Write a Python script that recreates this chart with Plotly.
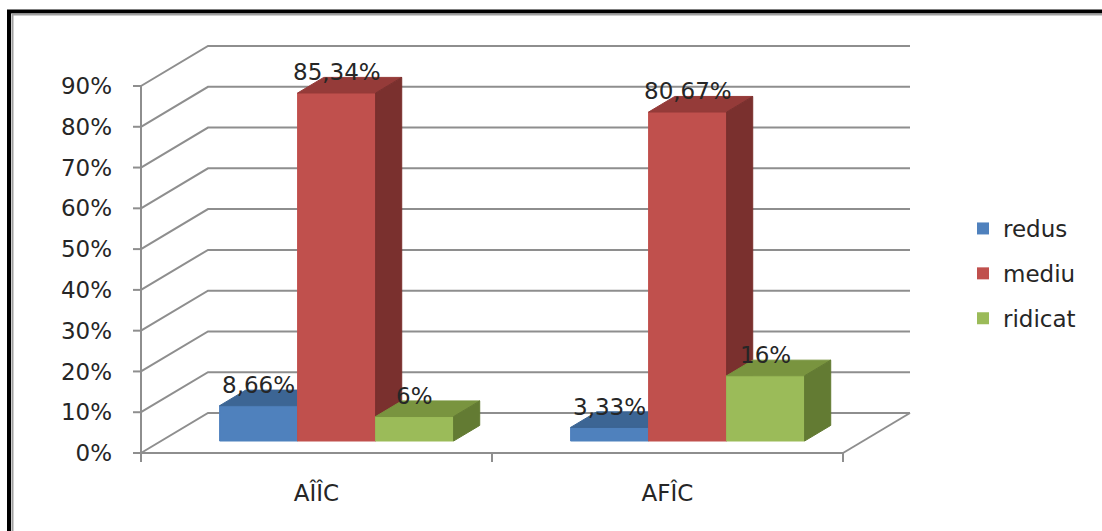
import plotly.graph_objects as go

# ---- data ----
categories = ["AÎÎC", "AFÎC"]
series_names = ["redus", "mediu", "ridicat"]
redus = [8.66, 3.33]
mediu = [85.34, 80.67]
ridicat = [6, 16]
redus_labels = ["8,66%", "3,33%"]
mediu_labels = ["85,34%", "80,67%"]
ridicat_labels = ["6%", "16%"]
y_ticks = [0, 10, 20, 30, 40, 50, 60, 70, 80, 90]
y_tick_text = ["0%", "10%", "20%", "30%", "40%", "50%", "60%", "70%", "80%", "90%"]

# ---- styling / geometry ----
FONT = "DejaVu Sans"
FS = 23
TXT = "#262626"
GRID = "#8e8e8e"
front_cols = ["#4f81bd", "#c0504d", "#9bbb59"]
top_cols = ["#3c6594", "#953b39", "#79943f"]
side_cols = ["#34577f", "#7a302e", "#637b33"]

PXU = 351.0          # pixels per category unit
PYU = 4.078          # pixels per percent
DX = 67.0 / PXU      # full depth offset in x units
DY = 40.0 / PYU      # full depth offset in y units
D0, D1 = 0.30, 0.69  # bar depth (front, back) fraction
BW = 78.0 / PXU      # bar width
PAD = 12
W, H = 1102, 531
ML, MR, MT, MB = 141 - PAD, W - (910 + PAD), 46 - PAD, H - (453 + PAD)
YMAX = y_ticks[-1]
NCAT = len(categories)

fig = go.Figure()

def seg(xs, ys, color=GRID, width=2):
    fig.add_trace(go.Scatter(x=xs, y=ys, mode="lines", line=dict(color=color, width=width),
                             showlegend=False, hoverinfo="skip"))

# walls: back gridlines + left wall diagonals
for v in y_ticks:
    seg([0, DX, NCAT + DX], [v, v + DY, v + DY])
# floor right edge and front edge
seg([NCAT, NCAT + DX], [0, DY])
seg([0, NCAT], [0, 0])
# value axis line + ticks
seg([0, 0], [0, YMAX])
for v in y_ticks:
    seg([-8 / PXU, 0], [v, v])
# category axis ticks
for k in range(NCAT + 1):
    seg([k, k], [0, -9 / PYU])

def poly(xs, ys, color):
    fig.add_trace(go.Scatter(x=xs + [xs[0]], y=ys + [ys[0]], mode="lines", fill="toself",
                             fillcolor=color, line=dict(color=color, width=1),
                             showlegend=False, hoverinfo="skip"))

series_vals = [redus, mediu, ridicat]
series_labels = [redus_labels, mediu_labels, ridicat_labels]
annotations = []
for c in range(NCAT):
    for s in range(3):
        v = series_vals[s][c]
        xc = c + 0.5 + (s - 1) * BW
        x0, x1 = xc - BW / 2 + D0 * DX, xc + BW / 2 + D0 * DX
        y0, yt = D0 * DY, v + D0 * DY
        ddx, ddy = (D1 - D0) * DX, (D1 - D0) * DY
        poly([x0, x1, x1, x0], [y0, y0, yt, yt], front_cols[s])
        poly([x0, x1, x1 + ddx, x0 + ddx], [yt, yt, yt + ddy, yt + ddy], top_cols[s])
        poly([x1, x1 + ddx, x1 + ddx, x1], [y0, y0 + ddy, yt + ddy, yt], side_cols[s])
        annotations.append(dict(x=(x0 + x1) / 2, y=v + D1 * DY, xref="x", yref="y",
                                text=series_labels[s][c], showarrow=False, yanchor="bottom",
                                yshift=-10, font=dict(family=FONT, size=FS, color=TXT)))

# legend entries
for s in range(3):
    fig.add_trace(go.Scatter(x=[None], y=[None], mode="markers", name=series_names[s],
                             legendgroup=series_names[s],
                             marker=dict(symbol="square", size=12, color=front_cols[s])))

pw = W - ML - MR
ph = H - MT - MB
def px_to_paper_x(px):
    return (px - ML) / pw
def px_to_paper_y(py):
    return 1 - (py - MT) / ph

shapes = [
    dict(type="rect", xref="paper", yref="paper", x0=px_to_paper_x(9), x1=px_to_paper_x(W + 20),
         y0=px_to_paper_y(11.5), y1=px_to_paper_y(H + 20), line=dict(color="#000000", width=4)),
    dict(type="rect", xref="paper", yref="paper", x0=px_to_paper_x(12.5), x1=px_to_paper_x(W + 20),
         y0=px_to_paper_y(14.5), y1=px_to_paper_y(H + 20), line=dict(color="#a0a0a0", width=2)),
]

fig.update_layout(
    width=W, height=H,
    margin=dict(l=ML, r=MR, t=MT, b=MB, pad=0),
    paper_bgcolor="white", plot_bgcolor="white",
    font=dict(family=FONT, size=FS, color=TXT),
    showlegend=True,
    legend=dict(x=px_to_paper_x(963), y=px_to_paper_y(207), xanchor="left", yanchor="top",
                font=dict(family=FONT, size=FS, color=TXT), tracegroupgap=12,
                bgcolor="rgba(0,0,0,0)"),
    xaxis=dict(range=[-PAD / PXU, NCAT + DX + PAD / PXU], showgrid=False, zeroline=False,
               showline=False, tickmode="array", tickvals=[c + 0.5 for c in range(NCAT)],
               ticktext=categories, ticks="", ticklabelstandoff=12, fixedrange=True),
    yaxis=dict(range=[-PAD / PYU, YMAX + DY + PAD / PYU], showgrid=False, zeroline=False,
               showline=False, tickmode="array", tickvals=y_ticks, ticktext=y_tick_text,
               ticks="", ticklabelstandoff=16, fixedrange=True),
    annotations=annotations,
    shapes=shapes,
)

fig.write_html("out.html")
